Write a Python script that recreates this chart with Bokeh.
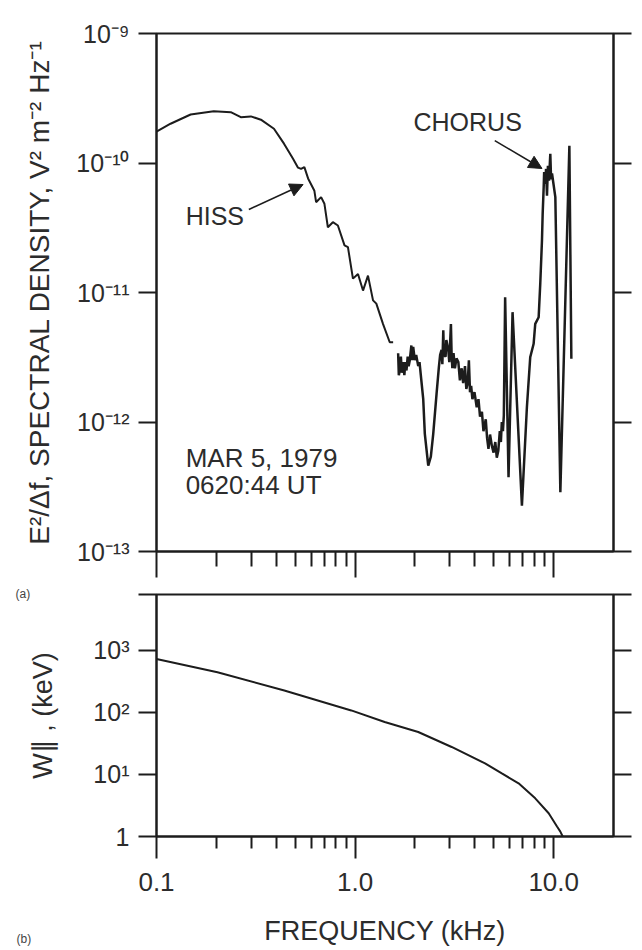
from bokeh.plotting import figure
from bokeh.models import (FixedTicker, LogAxis, Label, Arrow, NormalHead,
                          CustomJSTickFormatter)
from bokeh.layouts import column
from bokeh.embed import file_html
from bokeh.resources import INLINE

# ---------------- data ----------------
# (a) spectral density, smooth hiss part
hiss_freq_khz = [0.1, 0.1177, 0.1485, 0.1942, 0.2366, 0.2658, 0.2987, 0.3355,
                 0.3903, 0.4385, 0.4869, 0.5160, 0.5343, 0.5553, 0.5797, 0.6237,
                 0.6362, 0.6743, 0.7007, 0.7292, 0.7727, 0.8190, 0.8844, 0.9202,
                 0.9752, 1.034, 1.096, 1.161, 1.231, 1.279, 1.383, 1.494, 1.554]
hiss_density = [1.75e-10, 2.01e-10, 2.37e-10, 2.51e-10, 2.47e-10, 2.26e-10, 2.29e-10, 2.16e-10,
                1.84e-10, 1.41e-10, 1.08e-10, 9.2e-11, 9.0e-11, 9.3e-11, 7.6e-11, 6.1e-11,
                4.98e-11, 5.45e-11, 4.84e-11, 3.19e-11, 3.49e-11, 3.29e-11, 2.31e-11, 2.24e-11,
                1.28e-11, 1.39e-11, 1.035e-11, 1.35e-11, 8.7e-12, 8.2e-12, 5.7e-12, 4.13e-12, 4.13e-12]

# (a) spectral density, noisy band and chorus part
band_freq_khz = [1.647, 1.66, 1.678, 1.70, 1.72, 1.745, 1.77, 1.79, 1.814, 1.84,
                 1.86, 1.885, 1.92, 1.94, 1.961, 1.998, 2.03, 2.079, 2.11, 2.142,
                 2.203, 2.244, 2.335, 2.406, 2.474, 2.571, 2.641, 2.68, 2.725, 2.75,
                 2.780, 2.80, 2.855, 2.88, 2.946, 2.98, 3.037, 3.06, 3.087, 3.13,
                 3.181, 3.24, 3.310, 3.37, 3.440, 3.50, 3.575, 3.63, 3.689, 3.74,
                 3.789, 3.84, 3.896, 3.99, 4.096, 4.18, 4.256, 4.35, 4.428, 4.548,
                 4.62, 4.694, 4.78, 4.877, 4.98, 5.08, 5.169, 5.26, 5.353, 5.42,
                 5.479, 5.55, 5.608, 5.694, 5.923, 6.205, 6.917, 7.328, 7.616, 7.923,
                 8.072, 8.398, 8.556, 8.727, 8.798, 8.902, 8.95, 9.068, 9.15, 9.250,
                 9.35, 9.467, 9.612, 9.70, 9.804, 10.19, 10.80, 11.99, 12.27]
band_density = [3.4e-12, 2.3e-12, 2.5e-12, 3.2e-12, 2.4e-12, 2.9e-12, 2.3e-12, 2.9e-12, 2.5e-12, 3.2e-12,
                2.7e-12, 3.0e-12, 3.9e-12, 3.0e-12, 3.8e-12, 3.0e-12, 3.3e-12, 2.7e-12, 2.9e-12, 2.3e-12,
                1.5e-12, 8.1e-13, 4.6e-13, 5.4e-13, 8.1e-13, 1.65e-12, 2.65e-12, 3.3e-12, 3.6e-12, 2.8e-12,
                5.1e-12, 3.3e-12, 3.2e-12, 4.3e-12, 3.6e-12, 2.9e-12, 5.7e-12, 3.4e-12, 2.6e-12, 3.4e-12,
                2.6e-12, 3.1e-12, 2.9e-12, 2.1e-12, 2.6e-12, 2.0e-12, 2.7e-12, 1.8e-12, 2.0e-12, 3.0e-12,
                1.7e-12, 1.9e-12, 1.5e-12, 1.7e-12, 1.3e-12, 1.5e-12, 1.1e-12, 1.2e-12, 8.5e-13, 1.05e-12,
                7.5e-13, 6.2e-13, 8.0e-13, 6.6e-13, 5.8e-13, 7.0e-13, 5.3e-13, 6.0e-13, 8.5e-13, 7.0e-13,
                1.0e-12, 8.5e-13, 1.12e-12, 9.2e-12, 3.75e-13, 7.05e-12, 2.26e-13, 1.30e-12, 3.16e-12, 4.02e-12,
                5.73e-12, 6.44e-12, 1.17e-11, 2.52e-11, 4.06e-11, 6.5e-11, 8.5e-11, 6.9e-11, 9.0e-11, 5.6e-11,
                9.5e-11, 7.3e-11, 1.18e-10, 7.5e-11, 8.3e-11, 5.45e-11, 2.87e-13, 1.36e-10, 3.08e-12]

# (b) parallel resonant energy
energy_freq_khz = [0.1, 0.2027, 0.4400, 0.9561, 1.409, 2.079, 3.062, 4.511,
                   5.479, 6.654, 8.072, 9.434, 10.39, 10.80, 11.10]
energy_kev = [731, 445, 226, 108, 70.1, 48.5, 27.8, 15.1,
              10.4, 7.2, 4.13, 2.37, 1.45, 1.20, 1.0]

freq_ticks = [0.1, 1.0, 10.0]
freq_tick_labels = ["0.1", "1.0", "10.0"]
freq_minor_ticks = [0.2, 0.3, 0.4, 0.5, 0.6, 0.7, 0.8, 0.9, 2, 3, 4, 5, 6, 7, 8, 9]
density_ticks = [1e-13, 1e-12, 1e-11, 1e-10, 1e-9]
density_tick_labels = ["10⁻¹³", "10⁻¹²", "10⁻¹¹", "10⁻¹⁰", "10⁻⁹"]
energy_ticks = [1, 10, 100, 1000, 8000]
energy_tick_labels = ["1", "10¹", "10²", "10³", ""]

FONT = "Liberation Sans"
INK = "#1c1c1c"
TXT = "#2c2c2c"
EMPTY = CustomJSTickFormatter(code="return '';")


def base_style(p):
    p.grid.visible = False
    p.background_fill_color = "white"
    p.border_fill_color = "white"
    p.outline_line_color = INK
    p.outline_line_width = 2


def style_axis(ax, major_out, minor_out=0):
    ax.axis_line_color = INK
    ax.axis_line_width = 2
    ax.major_tick_line_color = INK
    ax.major_tick_line_width = 2
    ax.minor_tick_line_color = INK
    ax.minor_tick_line_width = 2
    ax.major_tick_in = 0
    ax.minor_tick_in = 0
    ax.major_tick_out = major_out
    ax.minor_tick_out = minor_out
    ax.major_label_text_font = FONT
    ax.major_label_text_color = TXT
    ax.axis_label_text_font = FONT
    ax.axis_label_text_color = TXT
    ax.axis_label_text_font_style = "normal"


# ---------------- panel (a) ----------------
p1 = figure(width=640, height=578, x_axis_type="log", y_axis_type="log",
            x_range=(0.1, 20), y_range=(1e-13, 1e-9),
            min_border_left=156, min_border_right=27, min_border_top=33, min_border_bottom=27,
            output_backend="svg", toolbar_location=None)
base_style(p1)

xa = p1.xaxis[0]
xa.ticker = FixedTicker(ticks=freq_ticks, minor_ticks=freq_minor_ticks)
xa.formatter = EMPTY
style_axis(xa, 26, 15)
xa.major_label_text_font_size = "0px"
xa.major_label_standoff = 0

ya = p1.yaxis[0]
ya.ticker = FixedTicker(ticks=density_ticks, minor_ticks=[])
ya.major_label_overrides = dict(zip(density_ticks, density_tick_labels))
style_axis(ya, 18)
ya.major_label_text_font_size = "25px"
ya.major_label_standoff = 9
ya.axis_label = "E²/Δf, SPECTRAL DENSITY, V² m⁻² Hz⁻¹"
ya.axis_label_text_font_size = "28px"
ya.axis_label_standoff = 18

ra = LogAxis(ticker=FixedTicker(ticks=density_ticks, minor_ticks=[]), formatter=EMPTY)
style_axis(ra, 18)
ra.major_label_text_font_size = "0px"
ra.major_label_standoff = 0
p1.add_layout(ra, "right")

p1.line(hiss_freq_khz, hiss_density, line_color=INK, line_width=2)
p1.line(band_freq_khz, band_density, line_color=INK, line_width=2.5)

lbl = dict(text_font=FONT, text_color=TXT, text_baseline="middle", text_align="left")
p1.add_layout(Label(x=0.1402, y=3.93e-11, text="HISS", text_font_size="25px", **lbl))
p1.add_layout(Label(x=1.968, y=2.06e-10, text="CHORUS", text_font_size="25px", **lbl))
p1.add_layout(Label(x=0.1402, y=5.23e-13, text="MAR 5, 1979", text_font_size="26px", **lbl))
p1.add_layout(Label(x=0.1402, y=3.24e-13, text="0620:44 UT", text_font_size="26px", **lbl))

p1.add_layout(Arrow(end=NormalHead(size=13, fill_color=INK, line_color=INK, line_width=1),
                    x_start=0.2917, y_start=4.38e-11, x_end=0.5470, y_end=6.82e-11,
                    line_color=INK, line_width=1.6))
p1.add_layout(Arrow(end=NormalHead(size=13, fill_color=INK, line_color=INK, line_width=1),
                    x_start=5.050, y_start=1.49e-10, x_end=8.727, y_end=9.07e-11,
                    line_color=INK, line_width=1.6))

# ---------------- panel (b) ----------------
p2 = figure(width=640, height=370, x_axis_type="log", y_axis_type="log",
            x_range=(0.1, 20), y_range=(1, 8000),
            min_border_left=156, min_border_right=27, min_border_top=16, min_border_bottom=111,
            output_backend="svg", toolbar_location=None)
base_style(p2)

xb = p2.xaxis[0]
xb.ticker = FixedTicker(ticks=freq_ticks, minor_ticks=freq_minor_ticks)
xb.major_label_overrides = dict(zip(freq_ticks, freq_tick_labels))
style_axis(xb, 22, 12)
xb.major_label_text_font_size = "26px"
xb.major_label_standoff = 14
xb.axis_label = "FREQUENCY (kHz)"
xb.axis_label_text_font_size = "27px"
xb.axis_label_standoff = 22

yb = p2.yaxis[0]
yb.ticker = FixedTicker(ticks=energy_ticks, minor_ticks=[])
yb.major_label_overrides = dict(zip(energy_ticks, energy_tick_labels))
style_axis(yb, 18)
yb.major_label_text_font_size = "25px"
yb.major_label_standoff = 9
yb.axis_label = "W∥ , (keV)"
yb.axis_label_text_font_size = "27px"
yb.axis_label_standoff = 32

rb = LogAxis(ticker=FixedTicker(ticks=energy_ticks, minor_ticks=[]), formatter=EMPTY)
style_axis(rb, 18)
rb.major_label_text_font_size = "0px"
rb.major_label_standoff = 0
p2.add_layout(rb, "right")

p2.line(energy_freq_khz, energy_kev, line_color=INK, line_width=2)

# panel tags, placed in side panels so that they are not clipped to the frame
small = dict(text_font=FONT, text_color="#444444", text_baseline="middle", text_align="left",
             text_font_size="12px", x_units="canvas", y_units="canvas")
p2.add_layout(Label(x=15, y=15, text="(a)", **small), "left")
p2.add_layout(Label(x=16, y=360, text="(b)", **small), "above")

layout = column(p1, p2)
open("out.html", "w").write(file_html(layout, INLINE))
